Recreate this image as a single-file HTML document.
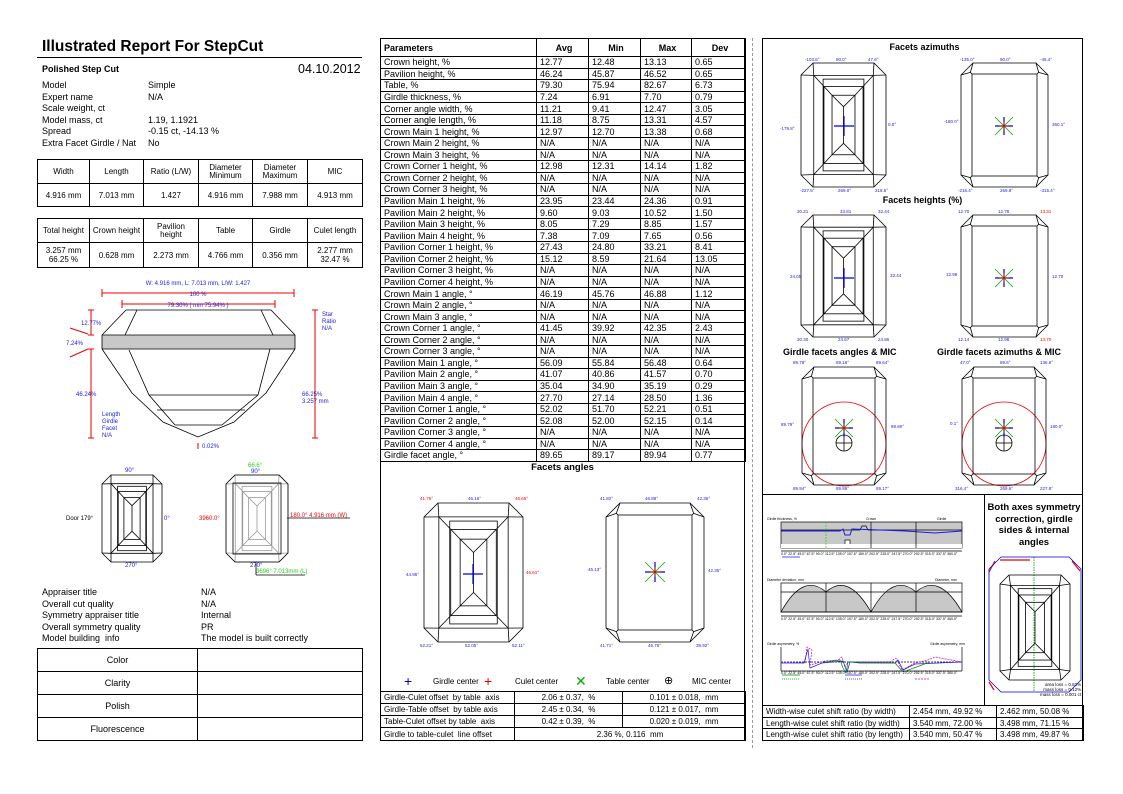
<!DOCTYPE html>
<html><head><meta charset="utf-8">
<style>
*{margin:0;padding:0;box-sizing:border-box}
body{width:1123px;height:794px;background:#fff;position:relative;overflow:hidden;font-family:"Liberation Sans",Arial,sans-serif;color:#000}
.a{position:absolute;white-space:nowrap}
table{border-collapse:collapse;position:absolute;table-layout:fixed}
td{border:1px solid #000;font-size:8px;text-align:center;padding:0;overflow:hidden;white-space:nowrap}
.pt td{font-size:9px;text-align:left;padding-left:3px;height:11.57px;line-height:10px}
.pt tr.h td{font-weight:bold;height:18px}
.pt tr.h td.c{text-align:center}
svg{position:absolute;left:0;top:0}
</style></head><body>

<!-- LEFT PANEL -->
<div class="a" style="left:42px;top:38px;font-size:15.5px;font-weight:bold">Illustrated Report For StepCut</div>
<div class="a" style="left:37px;top:57px;width:325px;height:1px;background:#000"></div>
<div class="a" style="left:42px;top:64px;font-size:9px;font-weight:bold">Polished Step Cut</div>
<div class="a" style="left:298px;top:62px;font-size:12.5px">04.10.2012</div>
<div class="a" style="left:42px;top:80px;font-size:9px;line-height:11.5px">Model<br>Expert name<br>Scale weight, ct<br>Model mass, ct<br>Spread<br>Extra Facet Girdle / Nat</div>
<div class="a" style="left:148px;top:80px;font-size:9px;line-height:11.5px">Simple<br>N/A<br>&nbsp;<br>1.19, 1.1921<br>-0.15 ct, -14.13 %<br>No</div>

<table style="left:37px;top:159px;width:325px">
<colgroup><col style="width:52px"><col style="width:54px"><col style="width:55px"><col style="width:54px"><col style="width:55px"><col style="width:55px"></colgroup>
<tr style="height:24px"><td>Width</td><td>Length</td><td>Ratio (L/W)</td><td style="line-height:8px">Diameter<br>Minimum</td><td style="line-height:8px">Diameter<br>Maximum</td><td>MIC</td></tr>
<tr style="height:23px"><td>4.916 mm</td><td>7.013 mm</td><td>1.427</td><td>4.916 mm</td><td>7.988 mm</td><td>4.913 mm</td></tr>
</table>
<table style="left:37px;top:218px;width:325px">
<colgroup><col style="width:52px"><col style="width:54px"><col style="width:55px"><col style="width:54px"><col style="width:55px"><col style="width:55px"></colgroup>
<tr style="height:24px"><td>Total height</td><td>Crown height</td><td style="line-height:8px">Pavilion<br>height</td><td>Table</td><td>Girdle</td><td>Culet length</td></tr>
<tr style="height:25px"><td style="line-height:9px">3.257 mm<br>66.25 %</td><td>0.628 mm</td><td>2.273 mm</td><td>4.766 mm</td><td>0.356 mm</td><td style="line-height:9px">2.277 mm<br>32.47 %</td></tr>
</table>

<div class="a" style="left:42px;top:587px;font-size:9px;line-height:11.5px">Appraiser title<br>Overall cut quality<br>Symmetry appraiser title<br>Overall symmetry quality<br>Model building&nbsp; info</div>
<div class="a" style="left:201px;top:587px;font-size:9px;line-height:11.5px">N/A<br>N/A<br>Internal<br>PR<br>The model is built correctly</div>
<table style="left:37px;top:648px;width:325px">
<colgroup><col style="width:160px"><col style="width:165px"></colgroup>
<tr style="height:23px"><td style="font-size:9px">Color</td><td></td></tr>
<tr style="height:23px"><td style="font-size:9px">Clarity</td><td></td></tr>
<tr style="height:23px"><td style="font-size:9px">Polish</td><td></td></tr>
<tr style="height:23px"><td style="font-size:9px">Fluorescence</td><td></td></tr>
</table>

<!-- MIDDLE PANEL -->
<div class="a" style="left:380px;top:38px;width:365px;height:703px;border:1px solid #000"></div>
<table class="pt" style="left:380px;top:38px;width:365px">
<colgroup><col style="width:156px"><col style="width:52px"><col style="width:52px"><col style="width:51px"><col style="width:54px"></colgroup>
<tr class="h"><td>Parameters</td><td class="c">Avg</td><td class="c">Min</td><td class="c">Max</td><td class="c">Dev</td></tr>
<tr><td>Crown height, %</td><td>12.77</td><td>12.48</td><td>13.13</td><td>0.65</td></tr>
<tr><td>Pavilion height, %</td><td>46.24</td><td>45.87</td><td>46.52</td><td>0.65</td></tr>
<tr><td>Table, %</td><td>79.30</td><td>75.94</td><td>82.67</td><td>6.73</td></tr>
<tr><td>Girdle thickness, %</td><td>7.24</td><td>6.91</td><td>7.70</td><td>0.79</td></tr>
<tr><td>Corner angle width, %</td><td>11.21</td><td>9.41</td><td>12.47</td><td>3.05</td></tr>
<tr><td>Corner angle length, %</td><td>11.18</td><td>8.75</td><td>13.31</td><td>4.57</td></tr>
<tr><td>Crown Main 1 height, %</td><td>12.97</td><td>12.70</td><td>13.38</td><td>0.68</td></tr>
<tr><td>Crown Main 2 height, %</td><td>N/A</td><td>N/A</td><td>N/A</td><td>N/A</td></tr>
<tr><td>Crown Main 3 height, %</td><td>N/A</td><td>N/A</td><td>N/A</td><td>N/A</td></tr>
<tr><td>Crown Corner 1 height, %</td><td>12.98</td><td>12.31</td><td>14.14</td><td>1.82</td></tr>
<tr><td>Crown Corner 2 height, %</td><td>N/A</td><td>N/A</td><td>N/A</td><td>N/A</td></tr>
<tr><td>Crown Corner 3 height, %</td><td>N/A</td><td>N/A</td><td>N/A</td><td>N/A</td></tr>
<tr><td>Pavilion Main 1 height, %</td><td>23.95</td><td>23.44</td><td>24.36</td><td>0.91</td></tr>
<tr><td>Pavilion Main 2 height, %</td><td>9.60</td><td>9.03</td><td>10.52</td><td>1.50</td></tr>
<tr><td>Pavilion Main 3 height, %</td><td>8.05</td><td>7.29</td><td>8.85</td><td>1.57</td></tr>
<tr><td>Pavilion Main 4 height, %</td><td>7.38</td><td>7.09</td><td>7.65</td><td>0.56</td></tr>
<tr><td>Pavilion Corner 1 height, %</td><td>27.43</td><td>24.80</td><td>33.21</td><td>8.41</td></tr>
<tr><td>Pavilion Corner 2 height, %</td><td>15.12</td><td>8.59</td><td>21.64</td><td>13.05</td></tr>
<tr><td>Pavilion Corner 3 height, %</td><td>N/A</td><td>N/A</td><td>N/A</td><td>N/A</td></tr>
<tr><td>Pavilion Corner 4 height, %</td><td>N/A</td><td>N/A</td><td>N/A</td><td>N/A</td></tr>
<tr><td>Crown Main 1 angle, °</td><td>46.19</td><td>45.76</td><td>46.88</td><td>1.12</td></tr>
<tr><td>Crown Main 2 angle, °</td><td>N/A</td><td>N/A</td><td>N/A</td><td>N/A</td></tr>
<tr><td>Crown Main 3 angle, °</td><td>N/A</td><td>N/A</td><td>N/A</td><td>N/A</td></tr>
<tr><td>Crown Corner 1 angle, °</td><td>41.45</td><td>39.92</td><td>42.35</td><td>2.43</td></tr>
<tr><td>Crown Corner 2 angle, °</td><td>N/A</td><td>N/A</td><td>N/A</td><td>N/A</td></tr>
<tr><td>Crown Corner 3 angle, °</td><td>N/A</td><td>N/A</td><td>N/A</td><td>N/A</td></tr>
<tr><td>Pavilion Main 1 angle, °</td><td>56.09</td><td>55.84</td><td>56.48</td><td>0.64</td></tr>
<tr><td>Pavilion Main 2 angle, °</td><td>41.07</td><td>40.86</td><td>41.57</td><td>0.70</td></tr>
<tr><td>Pavilion Main 3 angle, °</td><td>35.04</td><td>34.90</td><td>35.19</td><td>0.29</td></tr>
<tr><td>Pavilion Main 4 angle, °</td><td>27.70</td><td>27.14</td><td>28.50</td><td>1.36</td></tr>
<tr><td>Pavilion Corner 1 angle, °</td><td>52.02</td><td>51.70</td><td>52.21</td><td>0.51</td></tr>
<tr><td>Pavilion Corner 2 angle, °</td><td>52.08</td><td>52.00</td><td>52.15</td><td>0.14</td></tr>
<tr><td>Pavilion Corner 3 angle, °</td><td>N/A</td><td>N/A</td><td>N/A</td><td>N/A</td></tr>
<tr><td>Pavilion Corner 4 angle, °</td><td>N/A</td><td>N/A</td><td>N/A</td><td>N/A</td></tr>
<tr><td>Girdle facet angle, °</td><td>89.65</td><td>89.17</td><td>89.94</td><td>0.77</td></tr>
</table>
<div class="a" style="left:380px;top:462px;width:365px;text-align:center;font-size:9.5px;font-weight:bold">Facets angles</div>
<div class="a" style="left:380px;top:677px;width:365px;font-size:8px">
<span class="a" style="left:24px;top:-4px;color:#00c;font-size:14px">+</span><span class="a" style="left:53px">Girdle center</span>
<span class="a" style="left:104px;top:-4px;color:#e00;font-size:14px">+</span><span class="a" style="left:135px">Culet center</span>
<span class="a" style="left:195px;top:-4px;color:#0a0;font-size:14px">✕</span><span class="a" style="left:226px">Table center</span>
<span class="a" style="left:284px;top:-3px;font-size:11px">⊕</span><span class="a" style="left:312px">MIC center</span>
</div>
<table style="left:380px;top:691px;width:365px">
<colgroup><col style="width:134px"><col style="width:108px"><col style="width:123px"></colgroup>
<tr style="height:12px"><td style="text-align:left;padding-left:3px">Girdle-Culet offset&nbsp; by table&nbsp; axis</td><td>2.06 ± 0.37,&nbsp; %</td><td>0.101 ± 0.018,&nbsp; mm</td></tr>
<tr style="height:12px"><td style="text-align:left;padding-left:3px">Girdle-Table offset&nbsp; by table axis</td><td>2.45 ± 0.34,&nbsp; %</td><td>0.121 ± 0.017,&nbsp; mm</td></tr>
<tr style="height:12px"><td style="text-align:left;padding-left:3px">Table-Culet offset by table&nbsp; axis</td><td>0.42 ± 0.39,&nbsp; %</td><td>0.020 ± 0.019,&nbsp; mm</td></tr>
<tr style="height:13px"><td style="text-align:left;padding-left:3px">Girdle to table-culet&nbsp; line offset</td><td colspan="2">2.36 %, 0.116&nbsp; mm</td></tr>
</table>
<div class="a" style="left:752px;top:38px;width:0;height:710px;border-left:1px dashed #999"></div>

<!-- RIGHT PANEL -->
<div class="a" style="left:762px;top:38px;width:321px;height:703px;border:1px solid #000"></div>
<div class="a" style="left:762px;top:42px;width:321px;text-align:center;font-size:9px;font-weight:bold;padding-left:4px">Facets azimuths</div>
<div class="a" style="left:762px;top:195px;width:321px;text-align:center;font-size:9px;font-weight:bold">Facets heights (%)</div>
<div class="a" style="left:783px;top:347px;font-size:9px;font-weight:bold">Girdle facets angles &amp; MIC</div>
<div class="a" style="left:937px;top:347px;font-size:9px;font-weight:bold">Girdle facets azimuths &amp; MIC</div>
<div class="a" style="left:762px;top:494px;width:321px;height:1px;background:#000"></div>
<div class="a" style="left:984px;top:494px;width:1px;height:211px;background:#000"></div>
<div class="a" style="left:986px;top:502px;width:96px;text-align:center;font-size:9.5px;font-weight:bold;line-height:11.5px;white-space:normal">Both axes symmetry correction, girdle sides &amp; internal angles</div>
<div class="a" style="left:1040px;top:682px;font-size:4.5px;line-height:5px;text-align:right">area loss = 0.62%<br>mass loss = 0.12%<br>mass loss = 0.001 ct</div>
<table style="left:762px;top:705px;width:321px">
<colgroup><col style="width:147px"><col style="width:87px"><col style="width:87px"></colgroup>
<tr style="height:12px"><td style="text-align:left;padding-left:3px">Width-wise culet shift ratio (by width)</td><td style="text-align:left;padding-left:3px">2.454 mm, 49.92 %</td><td style="text-align:left;padding-left:3px">2.462 mm, 50.08 %</td></tr>
<tr style="height:11px"><td style="text-align:left;padding-left:3px">Length-wise culet shift ratio (by width)</td><td style="text-align:left;padding-left:3px">3.540 mm, 72.00 %</td><td style="text-align:left;padding-left:3px">3.498 mm, 71.15 %</td></tr>
<tr style="height:12px"><td style="text-align:left;padding-left:3px">Length-wise culet shift ratio (by length)</td><td style="text-align:left;padding-left:3px">3.540 mm, 50.47 %</td><td style="text-align:left;padding-left:3px">3.498 mm, 49.87 %</td></tr>
</table>

<svg id="s" width="1123" height="794" viewBox="0 0 1123 794" font-family="Liberation Sans, sans-serif">
<g stroke="#000" stroke-width="0.8" fill="none">
<polygon points="102,349 295,349 295,335 271,335 102,335" fill="#c8c8c8" stroke="none"/>
<polyline points="102,335 126,310 271,310 295,335"/>
<line x1="102" y1="335" x2="295" y2="335"/>
<line x1="102" y1="349" x2="295" y2="349"/>
<line x1="102" y1="335" x2="102" y2="349"/><line x1="295" y1="335" x2="295" y2="349"/>
<line x1="137" y1="310" x2="125" y2="335"/><line x1="261" y1="310" x2="273" y2="335"/>
<polyline points="102,349 132,393 163,422 198,437 234,422 266,393 295,349"/>
<polyline points="129,350 149,395 175,425"/><polyline points="270,349 258,395 222,425"/>
<line x1="149" y1="395" x2="258" y2="395"/><line x1="157" y1="410" x2="245" y2="410"/><line x1="175" y1="425" x2="222" y2="425"/>
</g>
<g stroke="#e00" stroke-width="1" fill="none">
<line x1="102" y1="293" x2="294" y2="293"/><line x1="102" y1="289" x2="102" y2="297"/><line x1="294" y1="289" x2="294" y2="297"/>
<line x1="122" y1="304" x2="275" y2="304"/><line x1="122" y1="300" x2="122" y2="308"/><line x1="275" y1="300" x2="275" y2="308"/>
<line x1="91" y1="310" x2="91" y2="335"/><line x1="91" y1="349" x2="91" y2="438"/>
<line x1="88" y1="310" x2="94" y2="310"/><line x1="88" y1="335" x2="94" y2="335"/><line x1="88" y1="349" x2="94" y2="349"/><line x1="88" y1="438" x2="94" y2="438"/>
<line x1="315" y1="310" x2="315" y2="438"/><line x1="312" y1="310" x2="318" y2="310"/><line x1="312" y1="438" x2="318" y2="438"/>
<line x1="70" y1="328" x2="88" y2="334"/><line x1="70" y1="357" x2="88" y2="349"/>
<line x1="198" y1="443" x2="198" y2="449"/>
</g>
<g fill="#22d" font-size="6">
<text x="198" y="285" text-anchor="middle">W: 4.916 mm, L: 7.013 mm, L/W: 1.427</text>
<text x="198" y="296" text-anchor="middle" fill="#22d">100 %</text>
<text x="198" y="307" text-anchor="middle">79.30% ( min 75.94% )</text>
<text x="81" y="325">12.77%</text><text x="66" y="345">7.24%</text><text x="76" y="396">46.24%</text>
<text x="322" y="316">Star</text><text x="322" y="323">Ratio</text><text x="322" y="330">N/A</text>
<text x="302" y="396">66.25%</text><text x="302" y="403">3.257 mm</text>
<text x="102" y="416">Length</text><text x="102" y="423">Girdle</text><text x="102" y="430">Facet</text><text x="102" y="437">N/A</text>
<text x="202" y="448">0.02%</text>
<text x="125" y="472">90°</text><text x="125" y="567">270°</text><text x="66" y="520" fill="#000">Door 179°</text><text x="164" y="520">0°</text>
<text x="248" y="467" fill="#2c2">66.6°</text><text x="251" y="473">90°</text><text x="250" y="567">270°</text>
<text x="199" y="520" fill="#e00">3960.0°</text><text x="290" y="517" fill="#e00">180.0° 4.916 mm (W)</text>
<text x="256" y="573" fill="#2c2">3696° 7.013mm (L)</text>
</g>
<g stroke="#000" stroke-width="0.8"><line x1="287" y1="518" x2="350" y2="518"/><line x1="256" y1="563" x2="256" y2="575"/><line x1="256" y1="575" x2="305" y2="575"/></g>
<g stroke="#000" stroke-width="0.7" fill="none">
<rect x="781" y="522" width="181" height="26" fill="#c8c8c8"/>
<polyline points="781,530 860,530 862,526 866,526 868,530 962,530" stroke="#000"/>
<polyline points="781,531 840,531 843,529 845,535 850,535 852,529 905,531 935,533 962,531" stroke="#1a1aee" stroke-width="1"/>
<rect x="845" y="540" width="5" height="8" fill="#fff" stroke="#000"/>
<rect x="781" y="544" width="181" height="4" fill="#fff" stroke="none"/>
<line x1="826" y1="522" x2="826" y2="548" stroke="#2c2" stroke-dasharray="2,1"/>
<line x1="871" y1="522" x2="871" y2="548"/><line x1="916" y1="522" x2="916" y2="548"/>
<line x1="781" y1="551" x2="962" y2="551"/>
<line x1="782" y1="557" x2="800" y2="557" stroke="#1a1aee"/>
<path d="M781,612 Q803,572 826,592 Q848,572 871,612 Q893,572 916,592 Q939,572 962,612 Z" fill="#c8c8c8"/>
<rect x="781" y="583" width="181" height="29"/>
<line x1="781" y1="592" x2="962" y2="592"/>
<line x1="826" y1="583" x2="826" y2="612"/><line x1="871" y1="583" x2="871" y2="612"/><line x1="916" y1="583" x2="916" y2="612"/>
<line x1="781" y1="616" x2="962" y2="616"/>
<line x1="781" y1="647" x2="781" y2="671"/><line x1="962" y1="647" x2="962" y2="671"/>
<line x1="781" y1="662" x2="962" y2="662" stroke="#000" stroke-dasharray="2,1"/>
<line x1="781" y1="671" x2="962" y2="671"/>
<polyline points="781,662 805,663 807,647 812,650 810,665 825,661 838,660 842,657 845,667 848,662 890,662 896,658 902,670 915,663 928,660 935,657 962,662" stroke="#c0c" stroke-dasharray="2,1"/>
<polyline points="781,663 804,663 808,649 810,668 822,663 843,661 847,672 850,662 860,663 895,663 898,660 903,670 915,664 962,662" stroke="#1a1aee"/>
<polyline points="825,662 840,660 843,668 846,673 848,662 895,663 903,672 930,662" stroke="#080"/>
<line x1="782" y1="675" x2="800" y2="675" stroke="#080"/><line x1="845" y1="675" x2="862" y2="675" stroke="#1a1aee"/>
<line x1="782" y1="679" x2="800" y2="679" stroke="#080" stroke-dasharray="1,1"/><line x1="845" y1="679" x2="862" y2="679" stroke="#1a1aee" stroke-dasharray="1,1"/><line x1="915" y1="679" x2="930" y2="679" stroke="#c0c" stroke-dasharray="2,1"/>
</g>
<g font-size="3.5" fill="#000">
<text x="767" y="520">Girdle thickness, %</text><text x="866" y="520">Crown</text><text x="937" y="520">Girdle</text>
<text x="767" y="581">Diameter deviation, mm</text><text x="935" y="581">Diameter, mm</text>
<text x="767" y="645">Girdle asymmetry, %</text><text x="930" y="645">Girdle asymmetry, mm</text>
<text x="781" y="555">0.0°  22.5°  45.0°  67.5°  90.0°  112.5°  135.0°  157.5°  180.0°  202.5°  225.0°  247.5°  270.0°  292.5°  315.0°  337.5°  360.0°</text>
<text x="781" y="620">0.0°  22.5°  45.0°  67.5°  90.0°  112.5°  135.0°  157.5°  180.0°  202.5°  225.0°  247.5°  270.0°  292.5°  315.0°  337.5°  360.0°</text>
<text x="781" y="674">0.0°  22.5°  45.0°  67.5°  90.0°  112.5°  135.0°  157.5°  180.0°  202.5°  225.0°  247.5°  270.0°  292.5°  315.0°  337.5°  360.0°</text>
</g>
<g stroke="#e00" stroke-width="0.8" fill="none">
<circle cx="844" cy="444" r="42"/><circle cx="1004" cy="444" r="42"/>
</g>
<g stroke="#000" stroke-width="0.8" fill="none">
<circle cx="844" cy="443" r="8"/><line x1="836" y1="443" x2="852" y2="443"/><line x1="844" y1="435" x2="844" y2="451"/>
<circle cx="1004" cy="443" r="8"/><line x1="996" y1="443" x2="1012" y2="443"/><line x1="1004" y1="435" x2="1004" y2="451"/>
</g>
<g stroke="#e00" stroke-width="1.2" fill="none"><path d="M1000,560 L1030,560"/><path d="M989,572 L995,561"/><path d="M1072,561 L1080,571"/><path d="M989,682 L994,690"/></g>
<g stroke="#080" stroke-width="0.8" stroke-dasharray="1.5,1"><line x1="1034" y1="557" x2="1034" y2="692"/></g>
</svg>

<script>
var s=document.getElementById('s'),NS='http://www.w3.org/2000/svg';
function el(t,a){var e=document.createElementNS(NS,t);for(var k in a)e.setAttribute(k,a[k]);s.appendChild(e);return e;}
function L(x1,y1,x2,y2,c,w){el('line',{x1:x1,y1:y1,x2:x2,y2:y2,stroke:c||'#000','stroke-width':w||0.8});}
function R(x,y,w,h,c){el('rect',{x:x,y:y,width:w,height:h,fill:'none',stroke:c||'#000','stroke-width':0.8});}
function oct(x,y,w,h,c,col){el('polygon',{points:[x+c,y,x+w-c,y,x+w,y+c,x+w,y+h-c,x+w-c,y+h,x+c,y+h,x,y+h-c,x,y+c].join(','),fill:'none',stroke:col||'#000','stroke-width':0.8});}
function table(x,y,w,h,c,d,col){oct(x,y,w,h,c,col);R(x+d,y+d,w-2*d,h-2*d,col);
 var px=[[x+c,y,x,y+c,x+d,y+d],[x+w-c,y,x+w,y+c,x+w-d,y+d],[x+c,y+h,x,y+h-c,x+d,y+h-d],[x+w-c,y+h,x+w,y+h-c,x+w-d,y+h-d]];
 px.forEach(function(p){var mx=(p[0]+p[2])/2,my=(p[1]+p[3])/2,qx=(mx+p[4]*2)/3,qy=(my+p[5]*2)/3;L(p[0],p[1],qx,qy,col);L(p[2],p[3],qx,qy,col);L(qx,qy,p[4],p[5],col);});}
function step(x,y,w,h,c,col){oct(x,y,w,h,c,col);
 var ax=w*0.15,ay=h*0.1, bx=w*0.26,by=h*0.13, cx2=w*0.27,cy2=h*0.19, dx=w*0.365,dy=h*0.26;
 // outer verticals / horizontals
 L(x+ax,y+ay,x+w-ax,y+ay,col);L(x+ax,y+h-ay,x+w-ax,y+h-ay,col);
 L(x+ax,y+ay,x+ax,y+h-ay,col);L(x+w-ax,y+ay,x+w-ax,y+h-ay,col);
 R(x+bx,y+by,w-2*bx,h-2*by,col);R(x+cx2,y+cy2,w-2*cx2,h-2*cy2,col);R(x+dx,y+dy,w-2*dx,h-2*dy,col);
 L(x+c,y,x+ax,y+ay,col);L(x,y+c,x+ax,y+ay,col);L(x+w-c,y,x+w-ax,y+ay,col);L(x+w,y+c,x+w-ax,y+ay,col);
 L(x+c,y+h,x+ax,y+h-ay,col);L(x,y+h-c,x+ax,y+h-ay,col);L(x+w-c,y+h,x+w-ax,y+h-ay,col);L(x+w,y+h-c,x+w-ax,y+h-ay,col);
 L(x+ax,y+ay,x+dx,y+dy,col);L(x+w-ax,y+ay,x+w-dx,y+dy,col);L(x+ax,y+h-ay,x+dx,y+h-dy,col);L(x+w-ax,y+h-ay,x+w-dx,y+h-dy,col);
 var mx=x+w/2,t=y+dy,b=y+h-dy,k=(w-2*dx)/2;
 L(x+dx,t,mx,t+k,col);L(x+w-dx,t,mx,t+k,col);L(x+dx,b,mx,b-k,col);L(x+w-dx,b,mx,b-k,col);L(mx,t+k,mx,b-k,col);}
function star(cx,cy,sz){L(cx-sz,cy-sz,cx+sz,cy+sz,'#0a0');L(cx-sz,cy+sz,cx+sz,cy-sz,'#0a0');L(cx-sz,cy,cx+sz,cy,'#00d',1.2);L(cx,cy-sz,cx,cy+sz,'#00d',1.2);L(cx-sz*0.5,cy,cx+sz*0.5,cy,'#e00',1);L(cx,cy-sz*0.5,cx,cy+sz*0.5,'#e00',1);}
function cross(cx,cy,sz){L(cx-sz,cy,cx+sz,cy,'#00d',1.2);L(cx,cy-sz,cx,cy+sz,'#00d',1.2);}
step(102,475,60,87,9);
step(226,475,62,87,9,'#999');oct(226,475,62,87,9);R(233,483,48,71);
step(801,63,85,124,12);cross(844,126,10);
table(961,63,87,124,12,11);star(1004,126,9);
step(801,215,85,122,12);cross(844,278,10);
table(961,215,87,122,12,11);star(1004,278,9);
table(802,367,84,118,12,11);star(844,428,9);
table(962,367,84,118,12,11);star(1004,428,9);
step(424,503,99,139,14);cross(473,574,10);
table(606,503,98,139,14,12);star(655,572,10);
oct(989,557,92,135,12,'#00d');
step(1000,575,70,105,9,'#000');
var lab=[[805,61,'-103.6°'],[836,61,'90.0°'],[868,61,'47.6°'],[780,130,'-179.8°'],[888,126,'0.0°'],[800,192,'-227.5°'],[838,192,'269.0°'],[875,192,'318.5°'],
[960,61,'-135.0°'],[1000,61,'90.0°'],[1040,61,'-45.4°'],[944,123,'-180.0°'],[1052,126,'360.1°'],[958,192,'-216.4°'],[1000,192,'269.8°'],[1040,192,'-315.4°'],
[797,213,'30.21'],[840,213,'33.81'],[878,213,'32.44'],[790,278,'24.05'],[890,277,'33.44'],[797,341,'30.30'],[838,341,'24.67'],[878,341,'24.86'],
[958,213,'12.70'],[998,213,'12.78'],[1040,213,'13.31'],[946,276,'12.98'],[1052,278,'12.70'],[958,341,'12.14'],[998,341,'12.98'],[1040,341,'13.70'],
[793,364,'89.78°'],[836,364,'89.16°'],[876,364,'89.64°'],[781,426,'89.79°'],[891,428,'89.80°'],[793,490,'89.94°'],[836,490,'89.86°'],[876,490,'89.17°'],
[960,364,'47.0°'],[1000,364,'89.6°'],[1040,364,'136.6°'],[950,425,'0.1°'],[1050,428,'180.0°'],[955,490,'316.4°'],[1000,490,'269.6°'],[1040,490,'227.8°'],
[420,500,'41.75°'],[468,500,'46.16°'],[515,500,'46.65°'],[406,576,'44.95°'],[526,574,'46.61°'],[420,647,'52.21°'],[465,647,'52.05°'],[512,647,'52.11°'],
[600,500,'41.82°'],[645,500,'46.88°'],[697,500,'42.36°'],[588,571,'45.13°'],[708,572,'42.35°'],[600,647,'41.71°'],[648,647,'46.76°'],[696,647,'39.92°']];
lab.forEach(function(l){var t=el('text',{x:l[0],y:l[1],'font-size':4.5,fill:(l[2].indexOf('46.6')==0||l[2].indexOf('41.75')==0||l[2].indexOf('13.')==0)?'#e00':'#22d'});t.textContent=l[2];});
</script>
</body></html>
